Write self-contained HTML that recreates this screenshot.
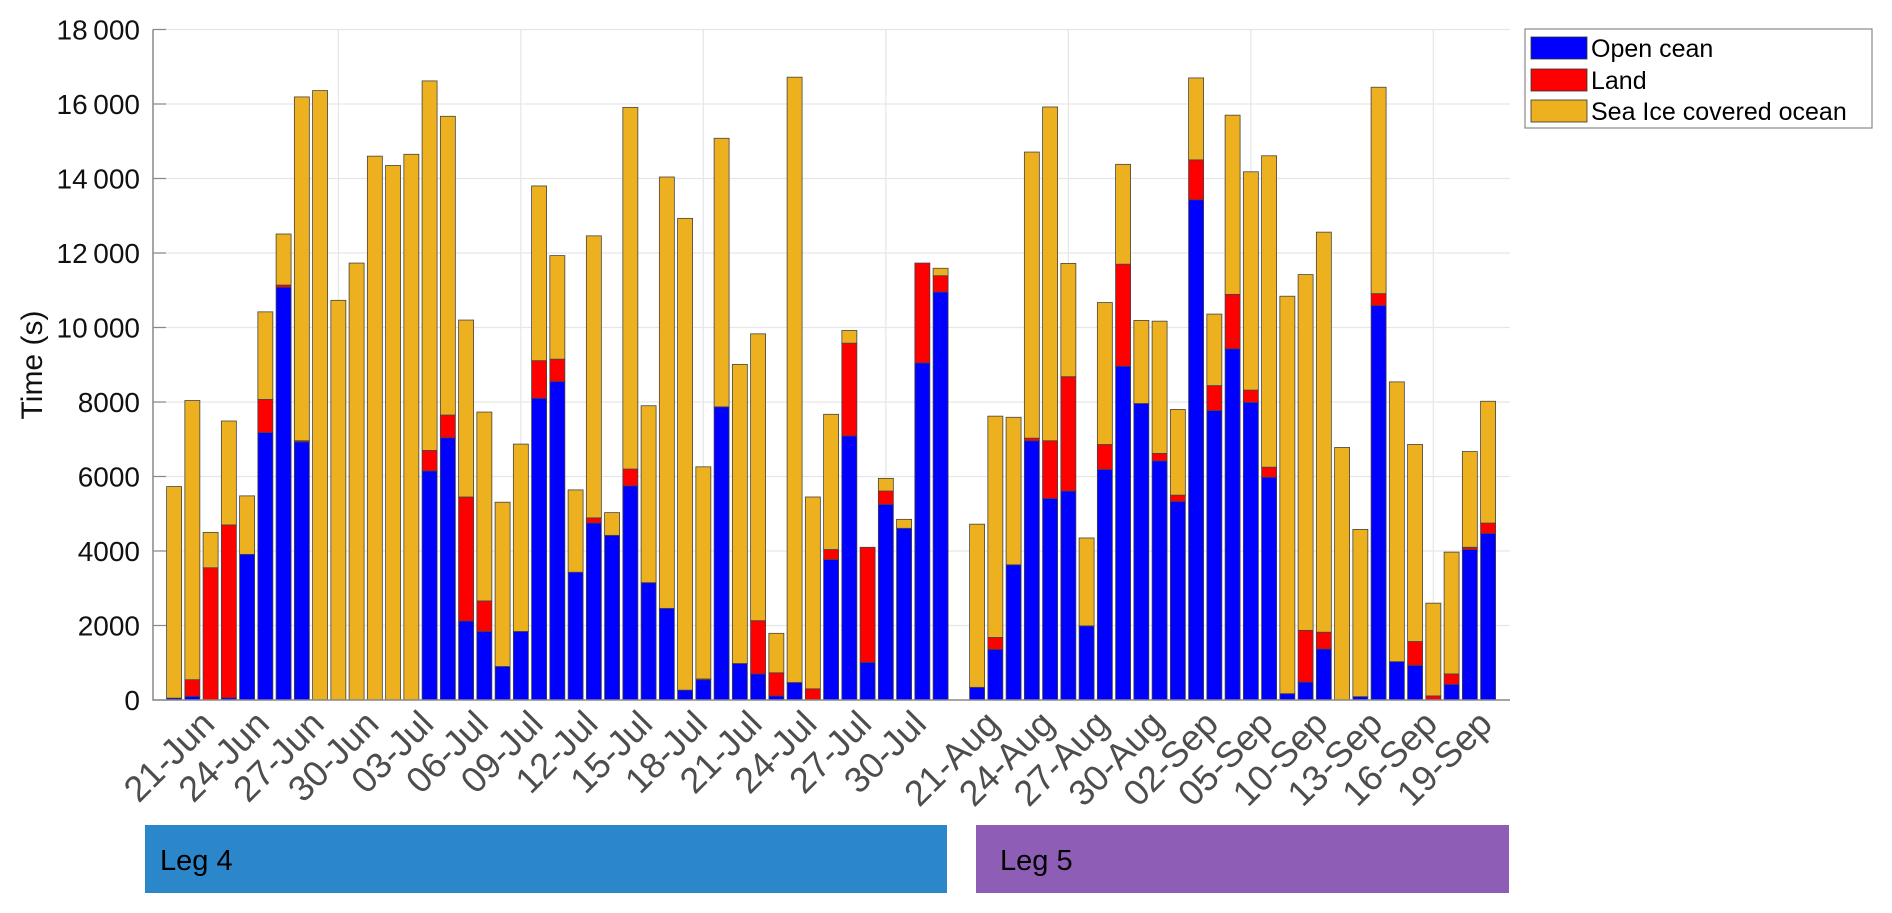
<!DOCTYPE html>
<html><head><meta charset="utf-8"><style>
html,body{margin:0;padding:0;background:#fff;}
svg{display:block;font-family:"Liberation Sans",Arial,sans-serif;}
</style></head><body>
<svg id="chart" width="1892" height="913" viewBox="0 0 1892 913">
<g id="grid"></g>
<g id="bars"></g>
<g id="axes"></g>
<text x="42" y="365" font-size="30" text-anchor="middle" transform="rotate(-90 42 365)" fill="#111">Time (s)</text>
<rect x="145" y="825" width="802" height="68" fill="#2b87c9"/>
<text x="160" y="870" font-size="29" fill="#000">Leg 4</text>
<rect x="976" y="825" width="533" height="68" fill="#8e5db5"/>
<text x="1000" y="870" font-size="29" fill="#000">Leg 5</text>
<g>
<rect x="1525" y="29" width="347" height="99" fill="#fff" stroke="#888" stroke-width="1.2"/>
<rect x="1531" y="37" width="56" height="22" fill="#0000ff" stroke="#333" stroke-width="0.8"/>
<text x="1591" y="57" font-size="25" fill="#000">Open cean</text>
<rect x="1531" y="69" width="56" height="22" fill="#ff0000" stroke="#333" stroke-width="0.8"/>
<text x="1591" y="89" font-size="25" fill="#000">Land</text>
<rect x="1531" y="100" width="56" height="22" fill="#edb120" stroke="#333" stroke-width="0.8"/>
<text x="1591" y="120" font-size="25" fill="#000">Sea Ice covered ocean</text>
</g>
</svg>
<script>
// bar slot index (1-based), slot 44 is the gap between legs
const slots = [1,2,3,4,5,6,7,8,9,10,11,12,13,14,15,16,17,18,19,20,21,22,23,24,25,26,27,28,29,30,31,32,33,34,35,36,37,38,39,40,41,42,43,
45,46,47,48,49,50,51,52,53,54,55,56,57,58,59,60,61,62,63,64,65,66,67,68,69,70,71,72,73,74];
const openOcean = [50,100,0,60,3910,7180,11080,6930,0,0,0,0,0,0,6150,7040,2120,1840,900,1840,8100,8550,3430,4750,4420,5750,3150,2460,265,545,7870,980,700,110,470,0,3770,7090,1010,5250,4610,9050,10950,
340,1360,3630,6960,5410,5610,1990,6190,8960,7960,6420,5330,13430,7770,9430,7990,5980,170,480,1370,0,90,10590,1030,930,0,420,4040,4470];
const land = [0,445,3550,4640,0,890,60,30,0,0,0,0,0,0,550,610,3330,820,0,0,1010,600,0,140,0,450,0,0,0,20,0,0,1430,620,0,300,270,2490,3090,360,0,2680,440,
0,320,0,70,1550,3070,0,670,2740,0,200,170,1070,670,1460,330,270,0,1390,450,0,0,320,0,640,110,280,60,280];
const totals = [5730,8040,4500,7490,5480,10420,12510,16190,16360,10730,11730,14600,14350,14650,16620,15670,10200,7730,5310,6870,13800,11930,5640,12460,5030,15910,7900,14040,12930,6260,15080,9010,9830,1790,16720,5450,7670,9920,4100,5950,4850,11730,11590,
4720,7620,7590,14710,15920,11720,4350,10670,14380,10190,10170,7800,16700,10360,15700,14180,14610,10840,11420,12560,6780,4580,16450,8540,6860,2600,3970,6670,8020];
const tickSlots = [3,6,9,12,15,18,21,24,27,30,33,36,39,42,46,49,52,55,58,61,64,67,70,73];
const tickLabels = ["21-Jun","24-Jun","27-Jun","30-Jun","03-Jul","06-Jul","09-Jul","12-Jul","15-Jul","18-Jul","21-Jul","24-Jul","27-Jul","30-Jul","21-Aug","24-Aug","27-Aug","30-Aug","02-Sep","05-Sep","10-Sep","13-Sep","16-Sep","19-Sep"];
const yTicks = [0,2000,4000,6000,8000,10000,12000,14000,16000,18000];
const yTickLabels = ["0","2000","4000","6000","8000","10\u2009000","12\u2009000","14\u2009000","16\u2009000","18\u2009000"];
const gridSlots = [10,20,30,40,50,60,70];

const NS="http://www.w3.org/2000/svg";
const X0=153, X1=1510, Y0=700, YT=29.5;
function xs(s){return 174.1+(s-1)*18.25;}
function ys(v){return Y0-(v/18000)*(Y0-YT);}
function mk(tag,attrs,parent){const e=document.createElementNS(NS,tag);for(const k in attrs)e.setAttribute(k,attrs[k]);parent.appendChild(e);return e;}
const grid=document.getElementById('grid'), bars=document.getElementById('bars'), axes=document.getElementById('axes');
yTicks.forEach((v,i)=>{
  if(v>0){const l=mk('line',{x1:X0,x2:X1,y1:ys(v),y2:ys(v),stroke:'#e6e6e6','stroke-width':1.2},grid);
  
  }
  const t=mk('line',{x1:X0,x2:X0+13,y1:ys(v),y2:ys(v),stroke:'#888','stroke-width':1.2},axes);
  
  
  const tx=mk('text',{x:140,y:ys(v)+10,'font-size':28,'text-anchor':'end',fill:'#111'},axes);
  tx.textContent=yTickLabels[i];
  
  
});
gridSlots.forEach(s=>{
  const l=mk('line',{x1:xs(s),x2:xs(s),y1:YT,y2:Y0,stroke:'#e6e6e6','stroke-width':1.2},grid);
  
  
});
const W=15;
slots.forEach((s,i)=>{
  const x=xs(s)-W/2;
  const o=openOcean[i], l=land[i], t=totals[i];
  const segs=[[0,o,'#0000ff','bar-open-ocean'],[o,o+l,'#ff0000','bar-land'],[o+l,t,'#edb120','bar-sea-ice']];
  segs.forEach(sg=>{
    if(sg[1]-sg[0]<=0)return;
    const r=mk('rect',{x:x,y:ys(sg[1]),width:W,height:ys(sg[0])-ys(sg[1]),fill:sg[2],stroke:'#444','stroke-width':0.8},bars);
    
    
  });
});
const ax=mk('path',{d:`M${X0} ${YT} V${Y0} H${X1}`,fill:'none',stroke:'#888','stroke-width':1.5},axes);


tickSlots.forEach((s,i)=>{
  const x=xs(s)+6, y=726;
  const t=mk('text',{x:x,y:y,'font-size':36,'text-anchor':'end',fill:'#4d4d4d',transform:`rotate(-45 ${x} ${y})`},axes);
  t.textContent=tickLabels[i];
  
  
});
</script>
</body></html>
